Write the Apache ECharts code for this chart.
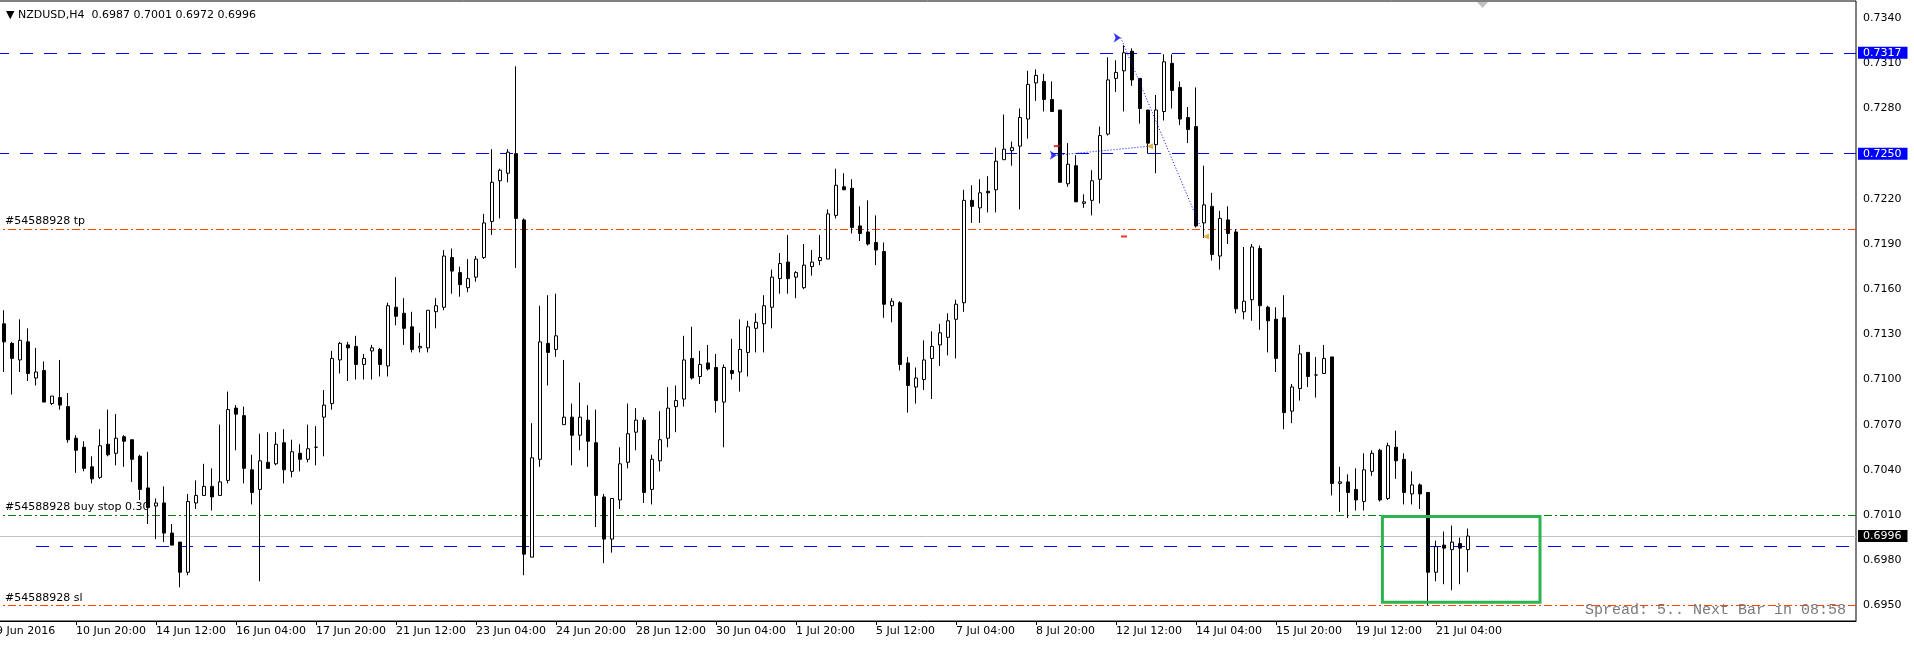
<!DOCTYPE html>
<html>
<head>
<meta charset="utf-8">
<title>NZDUSD,H4</title>
<script src="https://cdn.jsdelivr.net/npm/echarts@6/dist/echarts.min.js"></script>
<style>
html, body { margin: 0; padding: 0; background: #fff; }
#chart { width: 1914px; height: 648px; }
</style>
</head>
<body>
<div id="chart"></div>
<script>
// NZDUSD H4, 9 Jun - 21 Jul 2016 (one label every 10 bars)
var symbolName = 'NZDUSD,H4';
var tickLabels = ['9 Jun 2016', '10 Jun 20:00', '14 Jun 12:00', '16 Jun 04:00', '17 Jun 20:00', '21 Jun 12:00',
    '23 Jun 04:00', '24 Jun 20:00', '28 Jun 12:00', '30 Jun 04:00', '1 Jul 20:00', '5 Jul 12:00', '7 Jul 04:00',
    '8 Jul 20:00', '12 Jul 12:00', '14 Jul 04:00', '15 Jul 20:00', '19 Jul 12:00', '21 Jul 04:00'];

var opens = [
    0.7137, 0.7124, 0.7113, 0.7125, 0.7101, 0.7106, 0.7084, 0.7088, 0.7082, 0.7061,
    0.7055, 0.7042, 0.7035, 0.7057, 0.7051, 0.7062, 0.7060, 0.7049, 0.7028, 0.7016,
    0.7018, 0.6998, 0.6992, 0.6972, 0.7018, 0.7023, 0.7029, 0.7023, 0.7033, 0.7081,
    0.7076, 0.7040, 0.7027, 0.7045, 0.7044, 0.7058, 0.7039, 0.7051, 0.7047, 0.7055,
    0.7075, 0.7084, 0.7113, 0.7123, 0.7122, 0.7110, 0.7119, 0.7120, 0.7109, 0.7148,
    0.7144, 0.7135, 0.7121, 0.7121, 0.7145, 0.7148, 0.7181, 0.7171, 0.7161, 0.7168,
    0.7181, 0.7205, 0.7232, 0.7237, 0.7250, 0.7206, 0.6982, 0.7047, 0.7124, 0.7120,
    0.7070, 0.7075, 0.7063, 0.7073, 0.7058, 0.7022, 0.6994, 0.7020, 0.7045, 0.7065,
    0.7073, 0.7027, 0.7046, 0.7061, 0.7082, 0.7087, 0.7114, 0.7102, 0.7111, 0.7108,
    0.7085, 0.7106, 0.7105, 0.7118, 0.7134, 0.7137, 0.7148, 0.7167, 0.7178, 0.7168,
    0.7161, 0.7175, 0.7179, 0.7180, 0.7209, 0.7228, 0.7227, 0.7202, 0.7198, 0.7191,
    0.7185, 0.7149, 0.7151, 0.7111, 0.7095, 0.7100, 0.7114, 0.7123, 0.7128, 0.7140,
    0.7151, 0.7219, 0.7214, 0.7225, 0.7226, 0.7246, 0.7252, 0.7255, 0.7273, 0.7297,
    0.7298, 0.7286, 0.7279, 0.7230, 0.7242, 0.7217, 0.7219, 0.7233, 0.7263, 0.7300,
    0.7305, 0.7318, 0.7300, 0.7279, 0.7256, 0.7278, 0.7310, 0.7294, 0.7274, 0.7268,
    0.7204, 0.7215, 0.7182, 0.7206, 0.7198, 0.7145, 0.7153, 0.7187, 0.7148, 0.7140,
    0.7141, 0.7079, 0.7094, 0.7118, 0.7103, 0.7104, 0.7115, 0.7031, 0.7032, 0.7027,
    0.7019, 0.7039, 0.7053, 0.7021, 0.7055, 0.7047, 0.7024, 0.7030, 0.7025, 0.6972,
    0.6990, 0.6987, 0.6991, 0.6987
];
var highs = [
    0.7146, 0.7125, 0.7140, 0.7134, 0.7121, 0.7112, 0.7089, 0.7113, 0.7091, 0.7063,
    0.7059, 0.7049, 0.7067, 0.7080, 0.7077, 0.7063, 0.7060, 0.7050, 0.7052, 0.7021,
    0.7029, 0.7004, 0.6992, 0.7024, 0.7033, 0.7044, 0.7041, 0.7070, 0.7092, 0.7083,
    0.7082, 0.7050, 0.7064, 0.7065, 0.7065, 0.7067, 0.7060, 0.7057, 0.7070, 0.7069,
    0.7093, 0.7119, 0.7125, 0.7125, 0.7129, 0.7117, 0.7123, 0.7121, 0.7151, 0.7168,
    0.7154, 0.7145, 0.7131, 0.7146, 0.7154, 0.7186, 0.7187, 0.7175, 0.7180, 0.7182,
    0.7210, 0.7253, 0.7240, 0.7253, 0.7308, 0.7207, 0.7071, 0.7149, 0.7156, 0.7157,
    0.7113, 0.7084, 0.7098, 0.7083, 0.7080, 0.7024, 0.7021, 0.7055, 0.7084, 0.7081,
    0.7075, 0.7050, 0.7079, 0.7095, 0.7096, 0.7129, 0.7135, 0.7119, 0.7123, 0.7117,
    0.7110, 0.7127, 0.7140, 0.7139, 0.7144, 0.7156, 0.7173, 0.7184, 0.7196, 0.7172,
    0.7190, 0.7186, 0.7196, 0.7213, 0.7240, 0.7237, 0.7233, 0.7215, 0.7219, 0.7209,
    0.7191, 0.7154, 0.7152, 0.7115, 0.7108, 0.7126, 0.7132, 0.7137, 0.7144, 0.7153,
    0.7226, 0.7229, 0.7233, 0.7235, 0.7254, 0.7276, 0.7258, 0.7280, 0.7305, 0.7306,
    0.7303, 0.7298, 0.7279, 0.7257, 0.7249, 0.7223, 0.7239, 0.7268, 0.7314, 0.7312,
    0.7322, 0.7320, 0.7300, 0.7279, 0.7289, 0.7316, 0.7316, 0.7298, 0.7281, 0.7294,
    0.7242, 0.7224, 0.7212, 0.7215, 0.7200, 0.7188, 0.7190, 0.7189, 0.7149, 0.7148,
    0.7156, 0.7097, 0.7123, 0.7118, 0.7115, 0.7123, 0.7115, 0.7042, 0.7037, 0.7041,
    0.7051, 0.7053, 0.7054, 0.7058, 0.7066, 0.7051, 0.7039, 0.7031, 0.7025, 0.6993,
    0.6999, 0.7003, 0.6995, 0.7001
];
var lows = [
    0.7105, 0.7090, 0.7105, 0.7099, 0.7096, 0.7085, 0.7083, 0.7080, 0.7058, 0.7038,
    0.7039, 0.7031, 0.7034, 0.7049, 0.7043, 0.7042, 0.7032, 0.7020, 0.7004, 0.6994,
    0.6992, 0.6990, 0.6962, 0.6970, 0.7014, 0.7023, 0.7013, 0.7023, 0.7031, 0.7053,
    0.7031, 0.7017, 0.6966, 0.7041, 0.7043, 0.7031, 0.7035, 0.7039, 0.7045, 0.7043,
    0.7049, 0.7080, 0.7104, 0.7099, 0.7100, 0.7100, 0.7100, 0.7102, 0.7102, 0.7136,
    0.7123, 0.7118, 0.7118, 0.7118, 0.7134, 0.7146, 0.7157, 0.7155, 0.7158, 0.7165,
    0.7180, 0.7196, 0.7207, 0.7231, 0.7174, 0.6970, 0.6982, 0.7042, 0.7096, 0.7115,
    0.7070, 0.7043, 0.7053, 0.7042, 0.7002, 0.6978, 0.6985, 0.7014, 0.7041, 0.7053,
    0.7018, 0.7017, 0.7039, 0.7055, 0.7065, 0.7082, 0.7100, 0.7097, 0.7106, 0.7078,
    0.7055, 0.7100, 0.7092, 0.7102, 0.7118, 0.7118, 0.7134, 0.7157, 0.7157, 0.7154,
    0.7160, 0.7169, 0.7176, 0.7180, 0.7207, 0.7226, 0.7197, 0.7192, 0.7189, 0.7176,
    0.7141, 0.7138, 0.7106, 0.7078, 0.7084, 0.7093, 0.7087, 0.7109, 0.7116, 0.7114,
    0.7145, 0.7204, 0.7204, 0.7211, 0.7211, 0.7246, 0.7242, 0.7213, 0.7260, 0.7285,
    0.7278, 0.7278, 0.7231, 0.7228, 0.7218, 0.7214, 0.7209, 0.7217, 0.7262, 0.7291,
    0.7278, 0.7295, 0.7270, 0.7250, 0.7237, 0.7272, 0.7280, 0.7269, 0.7257, 0.7201,
    0.7194, 0.7179, 0.7173, 0.7190, 0.7144, 0.7140, 0.7139, 0.7133, 0.7118, 0.7105,
    0.7067, 0.7071, 0.7086, 0.7095, 0.7088, 0.7104, 0.7023, 0.7012, 0.7008, 0.7013,
    0.7013, 0.7036, 0.7019, 0.7020, 0.7034, 0.7017, 0.7017, 0.7014, 0.6950, 0.6966,
    0.6964, 0.6960, 0.6964, 0.6972
];
var closes = [
    0.7125, 0.7114, 0.7126, 0.7104, 0.7105, 0.7085, 0.7089, 0.7083, 0.7060, 0.7053,
    0.7041, 0.7034, 0.7056, 0.7050, 0.7061, 0.7059, 0.7047, 0.7027, 0.7015, 0.7018,
    0.6998, 0.6990, 0.6972, 0.7019, 0.7023, 0.7029, 0.7022, 0.7032, 0.7080, 0.7077,
    0.7041, 0.7025, 0.7046, 0.7041, 0.7057, 0.7040, 0.7052, 0.7047, 0.7054, 0.7055,
    0.7083, 0.7114, 0.7124, 0.7121, 0.7110, 0.7114, 0.7121, 0.7110, 0.7149, 0.7142,
    0.7134, 0.7120, 0.7122, 0.7146, 0.7149, 0.7182, 0.7172, 0.7163, 0.7167, 0.7180,
    0.7204, 0.7231, 0.7239, 0.7251, 0.7207, 0.6984, 0.7048, 0.7125, 0.7118, 0.7129,
    0.7075, 0.7063, 0.7075, 0.7059, 0.7023, 0.6994, 0.7021, 0.7044, 0.7064, 0.7073,
    0.7025, 0.7047, 0.7060, 0.7081, 0.7086, 0.7113, 0.7101, 0.7110, 0.7107, 0.7086,
    0.7108, 0.7104, 0.7120, 0.7135, 0.7138, 0.7149, 0.7168, 0.7177, 0.7167, 0.7171,
    0.7176, 0.7178, 0.7181, 0.7210, 0.7229, 0.7226, 0.7201, 0.7197, 0.7190, 0.7186,
    0.7150, 0.7152, 0.7110, 0.7096, 0.7101, 0.7113, 0.7122, 0.7131, 0.7139, 0.7150,
    0.7219, 0.7215, 0.7224, 0.7224, 0.7245, 0.7253, 0.7254, 0.7274, 0.7296, 0.7302,
    0.7286, 0.7278, 0.7231, 0.7243, 0.7218, 0.7218, 0.7232, 0.7262, 0.7299, 0.7304,
    0.7317, 0.7299, 0.7280, 0.7257, 0.7279, 0.7311, 0.7292, 0.7273, 0.7266, 0.7202,
    0.7216, 0.7183, 0.7207, 0.7197, 0.7147, 0.7152, 0.7188, 0.7149, 0.7139, 0.7114,
    0.7078, 0.7095, 0.7117, 0.7102, 0.7103, 0.7114, 0.7031, 0.7032, 0.7025, 0.7020,
    0.7040, 0.7051, 0.7020, 0.7056, 0.7046, 0.7025, 0.7030, 0.7024, 0.6972, 0.6989,
    0.6988, 0.6992, 0.6988, 0.6996
];

var priceTicks = [0.6950, 0.6980, 0.7010, 0.7040, 0.7070, 0.7100, 0.7130, 0.7160, 0.7190,
    0.7220, 0.7250, 0.7280, 0.7310, 0.7340];

// horizontal levels (prices) and the order text drawn on them
var levelPrices = [0.7317, 0.7250, 0.7200, 0.7010, 0.6996, 0.6950];
var levelTexts = ['', '', '#54588928 tp', '#54588928 buy stop 0.30', '', '#54588928 sl'];
var rayStart = [5, 0.6989];           // blue ray, bar index / price
var orderLineA = [[140.6, 0.7327], [150.6, 0.7201]];
var orderLineB = [[132.6, 0.7249], [144.25, 0.7255]];
var closeMarks = [[144.25, 0.7255], [151.25, 0.7195]];
var stopMarks = [[132.6, 0.7255], [141, 0.7195]];
var boxCorners = [[173.3, 0.7009], [193, 0.6952]];

var barCount = 233;   // bars that fit across the window incl. chart shift
var yMin = 0.69396, yMax = 0.73514;

var chart = echarts.init(document.getElementById('chart'));

var cats = [];
for (var i = 0; i < barCount; i++) cats.push(String(i));
var candles = ['-'];
for (var i = 0; i < opens.length; i++) {
    candles.push([opens[i], closes[i], lows[i], highs[i]]);
}
var last = opens.length - 1;
var titleText = '\u25BC ' + symbolName + '  ' + opens[last].toFixed(4) + ' ' + highs[last].toFixed(4) + ' ' +
    lows[last].toFixed(4) + ' ' + closes[last].toFixed(4);

function every10(idx) {
    return idx % 10 === 0 && idx / 10 < tickLabels.length;
}

var blueDash = { color: '#0000ff', width: 1, type: [13, 11], dashOffset: 20 };
var redDashDot = { color: '#ff4500', width: 1, type: [8, 3, 2, 3] };
var greenDashDot = { color: '#008000', width: 1, type: [8, 3, 2, 3] };
var bidLine = { color: '#c0c0c0', width: 1, type: 'solid' };
var levelStyles = [blueDash, blueDash, redDashDot, greenDashDot, bidLine, redDashDot];
var levelBoxes = ['#0000ff', '#0000ff', null, null, '#000000', null];

var levelData = levelPrices.map(function (p, i) {
    var item = { yAxis: p, lineStyle: levelStyles[i] };
    if (levelBoxes[i]) {
        item.label = {
            show: true, position: 'end', distance: 2,
            formatter: p.toFixed(4),
            color: '#fff', backgroundColor: levelBoxes[i],
            padding: [1, 6, 0, 5], fontSize: 11, fontFamily: 'DejaVu Sans'
        };
    } else if (levelTexts[i]) {
        item.label = {
            show: true, position: 'insideStartTop', distance: [13, 2],
            formatter: levelTexts[i],
            color: '#000', fontSize: 11, fontFamily: 'DejaVu Sans'
        };
    } else {
        item.label = { show: false };
    }
    return item;
});
levelData.push([
    { coord: rayStart, lineStyle: { color: '#0000ff', width: 1, type: [13, 11] } },
    { coord: [barCount - 0.5, rayStart[1]] }
]);

var option = {
    animation: false,
    title: {
        text: titleText, left: 1, top: 5,
        textStyle: { fontFamily: 'DejaVu Sans', fontSize: 11, fontWeight: 'normal', color: '#000' }
    },
    grid: {
        left: -8, right: 58, top: 1, bottom: 27,
        show: true, borderColor: '#000', borderWidth: 1,
        outerBoundsMode: 'none'
    },
    xAxis: [{
        type: 'category',
        data: cats,
        boundaryGap: true,
        axisLine: { lineStyle: { color: '#000', width: 1 } },
        axisTick: { show: true, alignWithLabel: true, interval: every10, length: 4, lineStyle: { color: '#000' } },
        axisLabel: {
            interval: every10,
            formatter: function (v, idx) { return tickLabels[idx / 10] || ''; },
            align: 'left', margin: 5, color: '#000', fontSize: 11, fontFamily: 'DejaVu Sans'
        },
        splitLine: { show: false }
    }, {
        type: 'value', min: -0.5, max: barCount - 0.5, show: false
    }],
    yAxis: {
        type: 'value',
        position: 'right',
        min: yMin, max: yMax,
        axisLine: { show: true, lineStyle: { color: '#000', width: 1 } },
        axisTick: { show: true, customValues: priceTicks, length: 3, lineStyle: { color: '#000' } },
        axisLabel: {
            customValues: priceTicks,
            formatter: function (v) { return v.toFixed(4); },
            margin: 7, color: '#000', fontSize: 11, fontFamily: 'DejaVu Sans'
        },
        splitLine: { show: false }
    },
    graphic: [{
        type: 'text', right: 68, top: 603, z: 10,
        style: { text: 'Spread: 5.. Next Bar in 08:58', font: '15px "Liberation Mono"', fill: '#7a7a7a' }
    }, {
        type: 'polygon', z: 10,
        shape: { points: [[1477, 2], [1488, 2], [1482.5, 8]] },
        style: { fill: '#c0c0c0' }
    }],
    series: [{
        name: 'levels',
        type: 'line',
        xAxisIndex: 1,
        data: [[0, levelPrices[0]]],
        showSymbol: false,
        lineStyle: { opacity: 0 },
        silent: true,
        z: 1,
        markLine: { symbol: 'none', silent: true, z: 1, precision: 4, animation: false, data: levelData },
        markArea: {
            silent: true, z: 6,
            itemStyle: { color: 'rgba(0,0,0,0)', borderColor: '#2db34f', borderWidth: 3 },
            data: [[{ coord: boxCorners[0] }, { coord: boxCorners[1] }]]
        }
    }, {
        name: 'NZDUSD',
        type: 'candlestick',
        data: candles,
        barWidth: 4,
        silent: true,
        z: 3,
        itemStyle: {
            color: '#ffffff', color0: '#000000',
            borderColor: '#000000', borderColor0: '#000000', borderColorDoji: '#000000',
            borderWidth: 1
        }
    }, {
        type: 'line', xAxisIndex: 1, data: orderLineA, symbol: 'none', silent: true, z: 5,
        lineStyle: { color: '#0000ff', width: 1, type: [1, 2] }
    }, {
        type: 'line', xAxisIndex: 1, data: orderLineB, symbol: 'none', silent: true, z: 5,
        lineStyle: { color: '#0000ff', width: 1, type: [1, 2] }
    }, {
        type: 'scatter', xAxisIndex: 1, silent: true, z: 6,
        data: [orderLineA[0], orderLineB[0]],
        symbol: 'arrow', symbolSize: 7, symbolRotate: -90,
        itemStyle: { color: '#0000ff' }
    }, {
        type: 'scatter', xAxisIndex: 1, silent: true, z: 6,
        data: closeMarks,
        symbol: 'triangle', symbolSize: 6, symbolRotate: 90,
        itemStyle: { color: '#d4a017' }
    }, {
        type: 'scatter', xAxisIndex: 1, silent: true, z: 6,
        data: stopMarks,
        symbol: 'rect', symbolSize: [6, 2],
        itemStyle: { color: '#e00000' }
    }]
};

chart.setOption(option);
</script>
</body>
</html>
